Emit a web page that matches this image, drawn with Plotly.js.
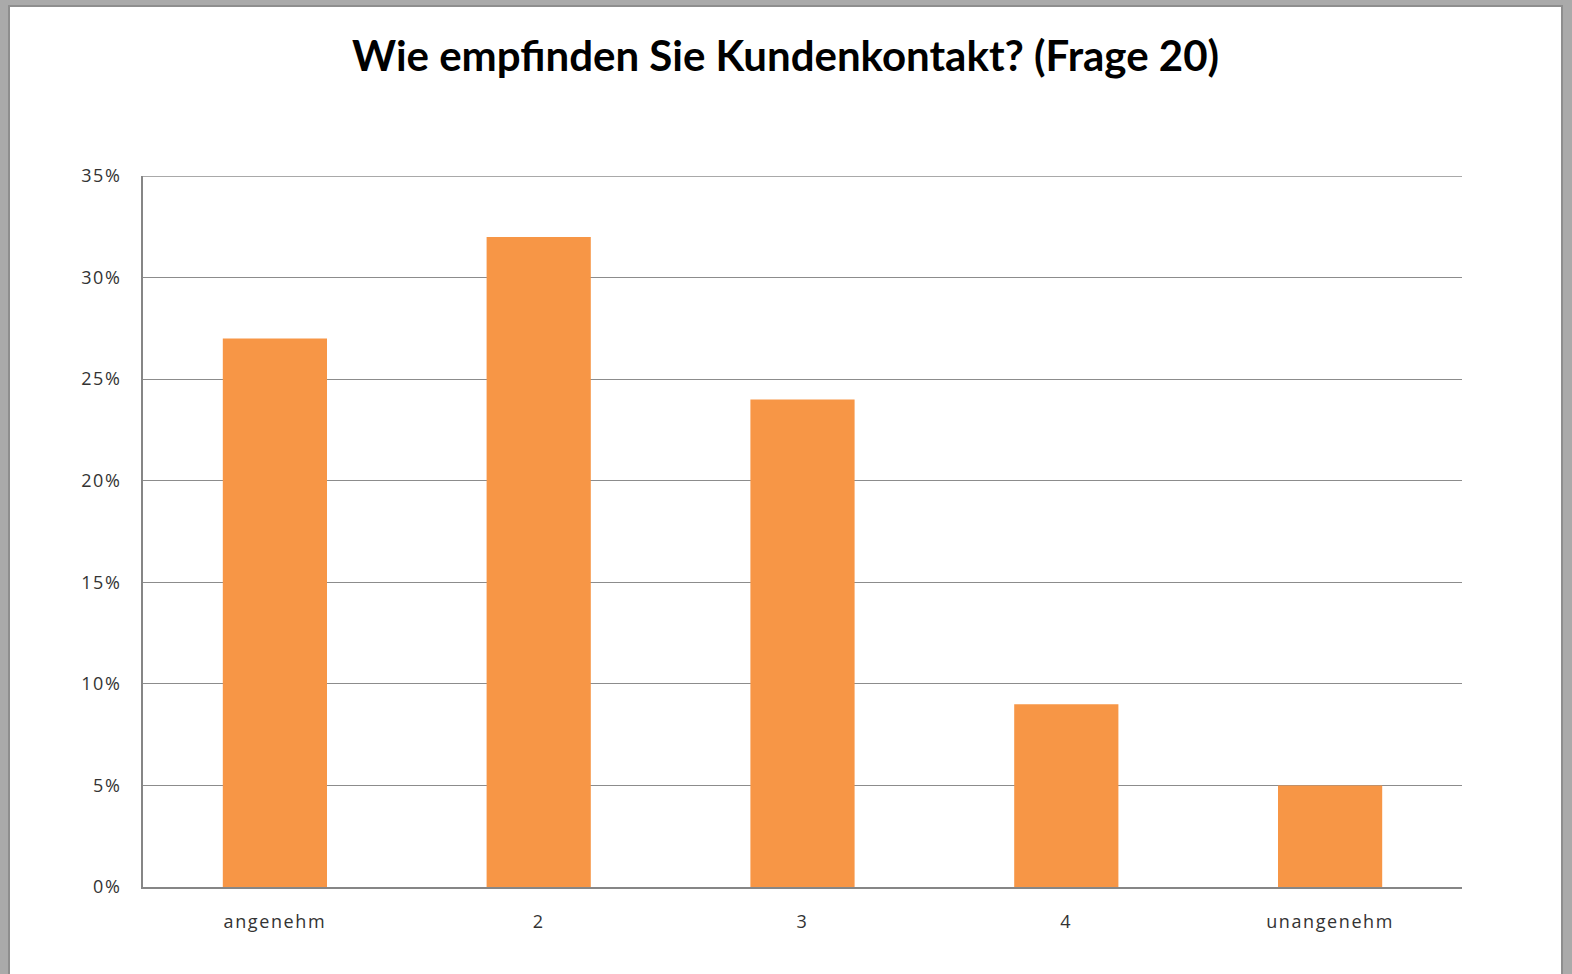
<!DOCTYPE html>
<html>
<head>
<meta charset="utf-8">
<script src="https://cdn.plot.ly/plotly-3.0.1.min.js"></script>
<style>
  html, body { margin: 0; padding: 0; width: 1572px; height: 974px; background: #aaaaaa; overflow: hidden; }
  #frame { position: absolute; left: 8px; top: 5px; width: 1555px; height: 975px; background: #ffffff; border-left: 2px solid #8e8e8e; border-top: 2px solid #8e8e8e; border-right: 2px solid #8e8e8e; box-sizing: border-box; }
  #chart { position: absolute; left: 0; top: 0; width: 1551px; height: 973px; }
  #chart .xtick text, #chart .ytick text { letter-spacing: 1.6px; }
</style>
</head>
<body>
<div id="frame"><div id="chart"></div></div>
<script>
const categories = ["angenehm", "2", "3", "4", "unangenehm"];
const values = [0.27, 0.32, 0.24, 0.09, 0.05];
const yTicks = [0, 0.05, 0.10, 0.15, 0.20, 0.25, 0.30, 0.35];
const yTickLabels = ["0%", "5%", "10%", "15%", "20%", "25%", "30%", "35%"];
const yMax = 0.35;

const trace = {
  type: "bar",
  x: categories,
  y: values,
  marker: { color: "#F79646" },
  hoverinfo: "x+y"
};

const layout = {
  width: 1551,
  height: 973,
  paper_bgcolor: "#ffffff",
  plot_bgcolor: "#ffffff",
  margin: { l: 133, r: 99, t: 169, b: 93 },
  showlegend: false,
  bargap: 0.605,
  title: {
    text: "<b>Wie empfinden Sie Kundenkontakt? (Frage 20)</b>",
    font: { family: "Lato, 'Open Sans', sans-serif", size: 42, color: "#000000" },
    x: 0.5, xanchor: "center",
    y: 0.949, yanchor: "middle"
  },
  shapes: [{
    type: "line", xref: "paper", x0: 0, x1: 1, yref: "y", y0: yMax, y1: yMax,
    line: { color: "#8c8c8c", width: 1.3 }, layer: "below"
  }],
  xaxis: {
    type: "category",
    showline: true, linecolor: "#868686", linewidth: 2,
    ticks: "", showgrid: false,
    tickfont: { family: "'Open Sans', Lato, sans-serif", size: 18, color: "#333333" },
    ticklabelstandoff: 17,
    fixedrange: true
  },
  yaxis: {
    range: [0, yMax],
    tickvals: yTicks,
    ticktext: yTickLabels,
    showline: true, linecolor: "#868686", linewidth: 2,
    showgrid: true, gridcolor: "#8c8c8c", gridwidth: 1.3,
    zeroline: false,
    ticks: "",
    tickfont: { family: "'Open Sans', Lato, sans-serif", size: 18, color: "#333333" },
    ticklabelstandoff: 16,
    fixedrange: true
  }
};

Plotly.newPlot("chart", [trace], layout, { displayModeBar: false });
</script>
</body>
</html>
